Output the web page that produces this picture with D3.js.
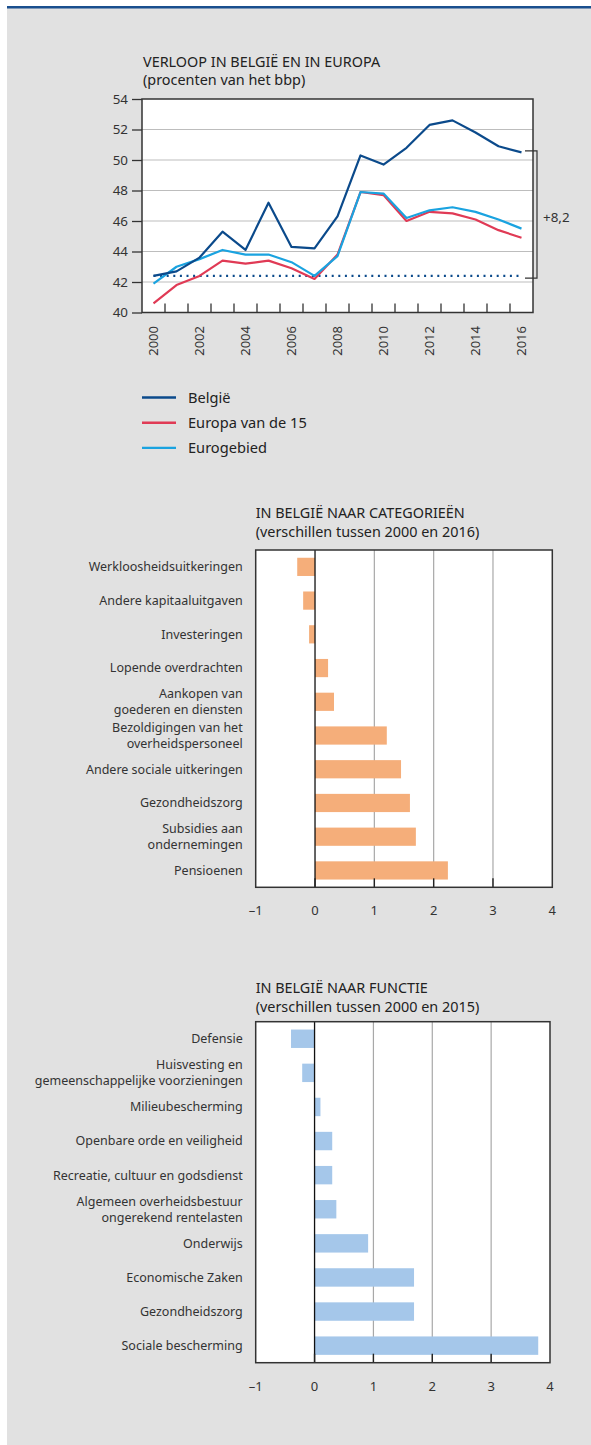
<!DOCTYPE html>
<html><head><meta charset="utf-8">
<script src="https://cdn.jsdelivr.net/npm/d3@7"></script>
<style>
body{margin:0;background:#fff;}
svg{display:block;font-family:"Noto Sans",sans-serif;}
</style></head>
<body>
<svg id="c" width="591" height="1445"></svg>
<script>
// ---------- DATA ----------
const years = [2000,2001,2002,2003,2004,2005,2006,2007,2008,2009,2010,2011,2012,2013,2014,2015,2016];
const yearLabels = [2000,2002,2004,2006,2008,2010,2012,2014,2016];
const belgie = [42.4,42.7,43.6,45.3,44.1,47.2,44.3,44.2,46.3,50.3,49.7,50.8,52.3,52.6,51.8,50.9,50.5];
const europa15 = [40.6,41.8,42.4,43.4,43.2,43.4,42.9,42.2,43.8,47.9,47.7,46.0,46.6,46.5,46.1,45.4,44.9];
const eurogebied = [41.9,43.0,43.5,44.1,43.8,43.8,43.3,42.4,43.7,47.9,47.8,46.2,46.7,46.9,46.6,46.1,45.5];
const yTicks = [40,42,44,46,48,50,52,54];
const seriesNames = ["België","Europa van de 15","Eurogebied"];
const baseline2000 = 42.4;
const bracketTop = 50.6;
const bracketLabel = "+8,2";

const catLabels = ["Werkloosheidsuitkeringen","Andere kapitaaluitgaven","Investeringen","Lopende overdrachten","Aankopen van\ngoederen en diensten","Bezoldigingen van het\noverheidspersoneel","Andere sociale uitkeringen","Gezondheidszorg","Subsidies aan\nondernemingen","Pensioenen"];
const catValues = [-0.30,-0.20,-0.10,0.22,0.32,1.21,1.45,1.60,1.70,2.24];

const funcLabels = ["Defensie","Huisvesting en\ngemeenschappelijke voorzieningen","Milieubescherming","Openbare orde en veiligheid","Recreatie, cultuur en godsdienst","Algemeen overheidsbestuur\nongerekend rentelasten","Onderwijs","Economische Zaken","Gezondheidszorg","Sociale bescherming"];
const funcValues = [-0.40,-0.21,0.10,0.30,0.30,0.37,0.91,1.69,1.69,3.80];
const barTicks = [-1,0,1,2,3,4];

// ---------- STYLE ----------
const colBel = "#0b4a8b", colEu = "#e03a55", colEz = "#1aa3e0";
const textCol = "#333";
const svg = d3.select("#c");

// panel
svg.append("rect").attr("x",7).attr("y",7).attr("width",584).attr("height",1438).attr("fill","#e1e1e1");
svg.append("rect").attr("x",7).attr("y",6).attr("width",584).attr("height",2.5).attr("fill","#1a4f8e");

// ---------- LINE CHART ----------
const L = {l:142,r:533,t:99,b:312.5};
const x = d3.scaleBand().domain(years).range([L.l,L.r]);
const y = d3.scaleLinear().domain([40,54]).range([L.b,L.t]);
const g1 = svg.append("g");

g1.append("text").attr("x",143).attr("y",66.5).attr("font-size",14.4).attr("fill","#222").text("VERLOOP IN BELGIË EN IN EUROPA");
g1.append("text").attr("x",143).attr("y",85).attr("font-size",14.4).attr("fill","#222").text("(procenten van het bbp)");

g1.append("rect").attr("x",L.l).attr("y",L.t).attr("width",L.r-L.l).attr("height",L.b-L.t).attr("fill","#fff");
// gridlines
g1.selectAll(".gy").data(yTicks.filter(d=>d>40&&d<54)).join("line")
  .attr("x1",L.l).attr("x2",L.r).attr("y1",d=>y(d)).attr("y2",d=>y(d))
  .attr("stroke","#bdbdbd").attr("stroke-width",1.2);
// y axis
const ya = g1.append("g").attr("transform",`translate(${L.l},0)`)
  .call(d3.axisLeft(y).tickValues(yTicks).tickSize(10).tickPadding(4).tickFormat(d3.format("d")));
ya.select(".domain").remove();
ya.selectAll("line").attr("stroke","#333").attr("stroke-width",1.3);
ya.selectAll("text").attr("font-size",13.4).attr("fill",textCol).attr("font-family","Noto Sans");
// x ticks (band boundaries, inside)
const bounds = years.slice(1).map(d=>x(d));
g1.selectAll(".xt").data(bounds).join("line")
  .attr("x1",d=>d).attr("x2",d=>d).attr("y1",L.b).attr("y2",L.b-9)
  .attr("stroke","#333").attr("stroke-width",1.3);
g1.selectAll(".xl").data(yearLabels).join("text")
  .attr("transform",d=>`translate(${x(d)+x.bandwidth()/2+4.6},326) rotate(-90)`)
  .attr("text-anchor","end").attr("font-size",13).attr("fill",textCol).text(d=>d);
// frame
g1.append("rect").attr("x",L.l).attr("y",L.t).attr("width",L.r-L.l).attr("height",L.b-L.t)
  .attr("fill","none").attr("stroke","#333").attr("stroke-width",1.5);
// dotted baseline
g1.append("line").attr("x1",x(2000)+x.bandwidth()/2).attr("x2",x(2016)+x.bandwidth()/2)
  .attr("y1",y(baseline2000)).attr("y2",y(baseline2000))
  .attr("stroke",colBel).attr("stroke-width",2.2).attr("stroke-dasharray","2,4.6");
// lines
const line = d3.line().x((d,i)=>x(years[i])+x.bandwidth()/2).y(d=>y(d));
[[europa15,colEu],[eurogebied,colEz],[belgie,colBel]].forEach(([s,c])=>{
  g1.append("path").datum(s).attr("d",line).attr("fill","none").attr("stroke",c).attr("stroke-width",2.2).attr("stroke-linejoin","round");
});
// bracket
const bx = 537;
g1.append("path").attr("d",`M${bx-12},${y(bracketTop)}H${bx}V${y(baseline2000-0.15)}H${bx-12}`)
  .attr("fill","none").attr("stroke","#333").attr("stroke-width",1.2);
g1.append("text").attr("x",543).attr("y",222).attr("font-size",13.4).attr("fill",textCol).text(bracketLabel);

// legend
const lg = svg.append("g");
[colBel,colEu,colEz].forEach((c,i)=>{
  const yy = 397.5 + i*25.2;
  lg.append("line").attr("x1",142).attr("x2",176).attr("y1",yy).attr("y2",yy).attr("stroke",c).attr("stroke-width",2.4);
  lg.append("text").attr("x",188).attr("y",yy+5).attr("font-size",14.6).attr("fill","#222").text(seriesNames[i]);
});

// ---------- BAR CHARTS ----------
function barChart(opt){
  const g = svg.append("g");
  g.append("text").attr("x",opt.l).attr("y",opt.titleY-0.5).attr("font-size",14.4).attr("fill","#222").text(opt.title);
  g.append("text").attr("x",opt.l).attr("y",opt.titleY+18.5).attr("font-size",14.4).attr("fill","#222").text(opt.sub);
  const xs = d3.scaleLinear().domain([-1,4]).range([opt.l,opt.r]);
  const ys = d3.scaleBand().domain(opt.labels).range([opt.t,opt.b]).paddingInner(0.46).paddingOuter(0.23);
  g.append("rect").attr("x",opt.l).attr("y",opt.t).attr("width",opt.r-opt.l).attr("height",opt.b-opt.t).attr("fill","#fff");
  g.selectAll(".gx").data(barTicks.filter(d=>d>0&&d<4)).join("line")
    .attr("x1",d=>xs(d)).attr("x2",d=>xs(d)).attr("y1",opt.t).attr("y2",opt.b)
    .attr("stroke","#a8a8a8").attr("stroke-width",1.2);
  g.selectAll(".bar").data(opt.values).join("rect")
    .attr("x",d=>xs(Math.min(0,d))).attr("width",d=>Math.abs(xs(d)-xs(0)))
    .attr("y",(d,i)=>ys(opt.labels[i])).attr("height",ys.bandwidth())
    .attr("fill",opt.color);
  g.append("line").attr("x1",xs(0)).attr("x2",xs(0)).attr("y1",opt.t).attr("y2",opt.b).attr("stroke","#111").attr("stroke-width",1.3);
  // bottom ticks inside
  g.selectAll(".bt").data(barTicks.filter(d=>d>-1&&d<4)).join("line")
    .attr("x1",d=>xs(d)).attr("x2",d=>xs(d)).attr("y1",opt.b).attr("y2",opt.b-9)
    .attr("stroke","#222").attr("stroke-width",1.4);
  g.selectAll(".bl").data(barTicks).join("text")
    .attr("x",d=>xs(d)).attr("y",opt.b+28).attr("text-anchor","middle")
    .attr("font-size",13).attr("fill",textCol).text(d=>d<0?"–"+Math.abs(d):d);
  g.append("rect").attr("x",opt.l).attr("y",opt.t).attr("width",opt.r-opt.l).attr("height",opt.b-opt.t)
    .attr("fill","none").attr("stroke","#333").attr("stroke-width",1.5);
  // category labels
  opt.labels.forEach(lab=>{
    const lines = lab.split("\n");
    const cy = ys(lab)+ys.bandwidth()/2;
    const t = g.append("text").attr("text-anchor","end").attr("font-size",12.5).attr("fill",textCol);
    lines.forEach((ln,k)=>{
      t.append("tspan").attr("x",opt.l-13).attr("y",cy+4.4+(k-(lines.length-1)/2)*16).text(ln);
    });
  });
}
barChart({title:"IN BELGIË NAAR CATEGORIEËN",sub:"(verschillen tussen 2000 en 2016)",titleY:518,
  l:255.7,r:552.3,t:550,b:887.3,labels:catLabels,values:catValues,color:"#f5ae7a"});
barChart({title:"IN BELGIË NAAR FUNCTIE",sub:"(verschillen tussen 2000 en 2015)",titleY:993,
  l:255.7,r:550,t:1021.7,b:1362.7,labels:funcLabels,values:funcValues,color:"#a5c7ea"});
</script>
</body></html>
